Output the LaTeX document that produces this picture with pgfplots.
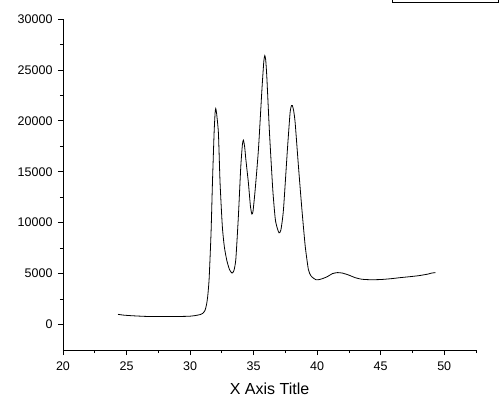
\documentclass[border=0pt]{standalone}
\usepackage{fontspec}
\setmainfont{Liberation Sans}
\usepackage{pgfplots}
\pgfplotsset{compat=1.18}
\begin{document}
\begin{tikzpicture}[x=1pt,y=1pt]
\begin{axis}[
  at={(0pt,0pt)}, anchor=south west,
  scale only axis, width=413pt, height=331pt,
  xmin=20, xmax=52.5, ymin=-2500, ymax=30000,
  axis x line*=bottom, axis y line*=left,
  axis line style={line width=0.8pt},
  xtick={20,25,...,50}, minor xtick={22.5,27.5,...,52.5},
  ytick={0,5000,...,30000}, minor ytick={2500,7500,...,27500},
  tick align=outside,
  major tick length=5pt, minor tick length=3pt,
  tick style={black, line width=0.7pt},
  scaled y ticks=false,
  /pgf/number format/assume math mode=true,
  /pgf/number format/1000 sep={},
  tick label style={font=\fontsize{12.5}{14}\selectfont},
  xticklabel style={yshift=-3pt},
  yticklabel style={xshift=-2pt},
  xlabel={X Axis Title},
  xlabel style={font=\fontsize{16}{18}\selectfont, yshift=-6pt},
]
\addplot[black, line width=0.8pt, smooth, tension=0.35] coordinates {
(24.33,1000) (24.8,920) (25.5,860) (26.5,800) (27.5,790) (28.5,790) (29.5,800)
(30.0,820) (30.4,880) (30.8,980) (31.0,1100) (31.18,1400) (31.3,2000) (31.39,2800)
(31.5,4500) (31.65,9000) (31.76,13900) (31.89,18800) (31.97,20800) (32.02,21200)
(32.08,20800) (32.23,18800) (32.36,13900) (32.54,9600) (32.7,7600) (32.89,6300)
(33.1,5400) (33.3,5050) (33.45,5300) (33.6,6400) (33.8,10600) (33.99,15500)
(34.12,17700) (34.2,18100) (34.3,17400) (34.39,16200) (34.59,13900) (34.75,11600)
(34.86,10850) (34.95,11100) (35.12,13200) (35.38,17200) (35.65,23000) (35.8,25800)
(35.88,26400) (35.95,26000) (36.04,24300) (36.25,18800) (36.51,13200) (36.7,10400)
(36.83,9600) (37.0,9000) (37.15,9300) (37.35,11300) (37.66,17200) (37.87,20800)
(37.98,21500) (38.05,21500) (38.15,21000) (38.27,19800) (38.53,15500) (38.8,11300)
(39.06,7700) (39.31,5400) (39.5,4800) (39.71,4550) (39.9,4400) (40.1,4400)
(40.4,4500) (40.8,4700) (41.2,5000) (41.6,5100) (42.0,5050) (42.5,4850) (43.0,4600)
(43.5,4450) (44.2,4400) (45.0,4420) (45.8,4500) (46.5,4600) (47.3,4700) (48.0,4800)
(48.7,4950) (49.0,5050) (49.3,5100)
};
\end{axis}
\draw[line width=0.8pt] (329pt,348pt) rectangle (435pt,362pt);
\pgfresetboundingbox
\path (-63pt,-55pt) rectangle (440pt,350pt);
\end{tikzpicture}
\end{document}
